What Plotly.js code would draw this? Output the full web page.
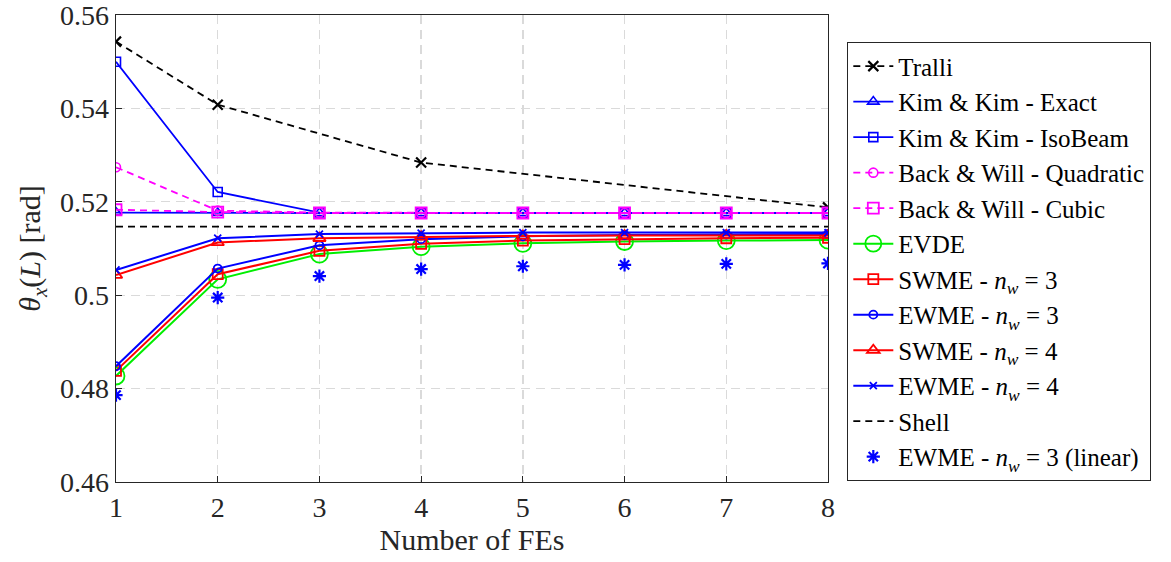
<!DOCTYPE html>
<html><head><meta charset="utf-8">
<script src="https://cdn.plot.ly/plotly-3.0.1.min.js"></script>
<style>html,body{margin:0;padding:0;background:#fff;}#chart{width:1171px;height:562px;}</style>
</head><body><div id="chart"></div>
<script>
const fes = [1, 2, 3, 4, 5, 6, 7, 8];
const tralliX = [1, 2, 4, 8];
const tralli = [0.5543, 0.5408, 0.5284, 0.5188];
const kimExact = [0.5177, 0.5176, 0.5176, 0.5176, 0.5176, 0.5176, 0.5176, 0.5176];
const kimIso = [0.5500, 0.5221, 0.5177, 0.5176, 0.5176, 0.5176, 0.5176, 0.5176];
const bwQuad = [0.5274, 0.5181, 0.5177, 0.5176, 0.5176, 0.5176, 0.5176, 0.5176];
const bwCubic = [0.5183, 0.5178, 0.5176, 0.5176, 0.5176, 0.5176, 0.5176, 0.5176];
const evde = [0.4827, 0.5034, 0.5088, 0.5104, 0.5111, 0.5115, 0.5117, 0.5118];
const swme3 = [0.4838, 0.5045, 0.5095, 0.5110, 0.5117, 0.5120, 0.5122, 0.5123];
const ewme3 = [0.4848, 0.5057, 0.5107, 0.5120, 0.5126, 0.5129, 0.5130, 0.5131];
const swme4 = [0.5043, 0.5113, 0.5122, 0.5125, 0.5127, 0.5128, 0.5128, 0.5128];
const ewme4 = [0.5054, 0.5122, 0.5131, 0.5133, 0.5134, 0.5134, 0.5134, 0.5134];
const shellX = [1, 8];
const shell = [0.5147, 0.5147];
const ewme3lin = [0.4786, 0.4995, 0.5041, 0.5056, 0.5062, 0.5065, 0.5067, 0.5068];
const yTicks = [0.46, 0.48, 0.5, 0.52, 0.54, 0.56];
const yTickText = ['0.46', '0.48', '0.5', '0.52', '0.54', '0.56'];

const SERIF = '"Liberation Serif", "Times New Roman", serif';
const nw = n => 'SWME - <i>n</i><sub><i>w</i></sub> = ' + n;
const nwE = n => 'EWME - <i>n</i><sub><i>w</i></sub> = ' + n;

const traces = [
  {x: tralliX, y: tralli, name: 'Tralli', mode: 'lines+markers',
   line: {color: '#000', width: 1.8, dash: '7px,5px'}, marker: {symbol: 'x-thin-open', size: 10, line: {color: '#000', width: 2.2}}},
  {x: fes, y: kimExact, name: 'Kim &amp; Kim - Exact', mode: 'lines+markers',
   line: {color: '#0000ff', width: 1.8}, marker: {symbol: 'triangle-up-open', size: 10, color: '#0000ff', line: {width: 1.6}}},
  {x: fes, y: kimIso, name: 'Kim &amp; Kim - IsoBeam', mode: 'lines+markers',
   line: {color: '#0000ff', width: 1.8}, marker: {symbol: 'square-open', size: 9, color: '#0000ff', line: {width: 1.6}}},
  {x: fes, y: bwQuad, name: 'Back &amp; Will - Quadratic', mode: 'lines+markers',
   line: {color: '#ff00ff', width: 1.8, dash: '7px,5px'}, marker: {symbol: 'circle-open', size: 9, color: '#ff00ff', line: {width: 1.6}}},
  {x: fes, y: bwCubic, name: 'Back &amp; Will - Cubic', mode: 'lines+markers',
   line: {color: '#ff00ff', width: 1.8, dash: '7px,5px'}, marker: {symbol: 'square-open', size: 11, color: '#ff00ff', line: {width: 1.8}}},
  {x: fes, y: evde, name: 'EVDE', mode: 'lines+markers',
   line: {color: '#00ee00', width: 2}, marker: {symbol: 'circle-open', size: 17, color: '#00ee00', line: {width: 1.8}}},
  {x: fes, y: swme3, name: nw(3), mode: 'lines+markers',
   line: {color: '#ff0000', width: 2}, marker: {symbol: 'square-open', size: 10, color: '#ff0000', line: {width: 1.8}}},
  {x: fes, y: ewme3, name: nwE(3), mode: 'lines+markers',
   line: {color: '#0000ff', width: 2}, marker: {symbol: 'circle-open', size: 8, color: '#0000ff', line: {width: 1.8}}},
  {x: fes, y: swme4, name: nw(4), mode: 'lines+markers',
   line: {color: '#ff0000', width: 2}, marker: {symbol: 'triangle-up-open', size: 11, color: '#ff0000', line: {width: 1.8}}},
  {x: fes, y: ewme4, name: nwE(4), mode: 'lines+markers',
   line: {color: '#0000ff', width: 2}, marker: {symbol: 'x-thin-open', size: 7, color: '#0000ff', line: {width: 1.8}}},
  {x: shellX, y: shell, name: 'Shell', mode: 'lines',
   line: {color: '#000', width: 1.8, dash: '7px,5px'}},
  {x: fes, y: ewme3lin, name: nwE(3) + ' (linear)', mode: 'markers',
   marker: {symbol: 'asterisk-open', size: 11, color: '#0000ff', line: {width: 2.2, color: '#0000ff'}}}
];

const axisCommon = {
  showline: true, mirror: true, linecolor: '#262626', linewidth: 1.3,
  showgrid: true, gridcolor: '#dadada', griddash: '9px,6px', gridwidth: 1.3,
  ticks: 'inside', ticklen: 6, tickcolor: '#262626', zeroline: false,
  ticklabeloverflow: 'allow',
  tickfont: {family: SERIF, size: 28, color: '#262626'}
};

const layout = {
  width: 1171, height: 562,
  margin: {l: 116, r: 343, t: 15, b: 80},
  paper_bgcolor: '#fff', plot_bgcolor: '#fff',
  font: {family: SERIF, color: '#000'},
  showlegend: true,
  xaxis: Object.assign({}, axisCommon, {
    range: [1, 8], tickvals: fes, ticktext: fes.map(String),
    title: {text: 'Number of FEs', font: {family: SERIF, size: 30, color: '#262626'}, standoff: 2}
  }),
  yaxis: Object.assign({}, axisCommon, {
    range: [0.4599999, 0.5600001], tickvals: yTicks, ticktext: yTickText,
    title: {text: '<i>θ</i><sub><i>x</i></sub>(<i>L</i>) [rad]', font: {family: SERIF, size: 30, color: '#262626'}, standoff: 10}
  }),
  legend: {
    x: 1.0267, y: 0.942, xanchor: 'left', yanchor: 'top',
    bgcolor: '#fff', bordercolor: '#262626', borderwidth: 1.3,
    font: {family: SERIF, size: 25, color: '#000'},
    tracegroupgap: 0, itemwidth: 40
  }
};

Plotly.newPlot('chart', traces, layout, {displayModeBar: false, staticPlot: true});
</script>
</body></html>
